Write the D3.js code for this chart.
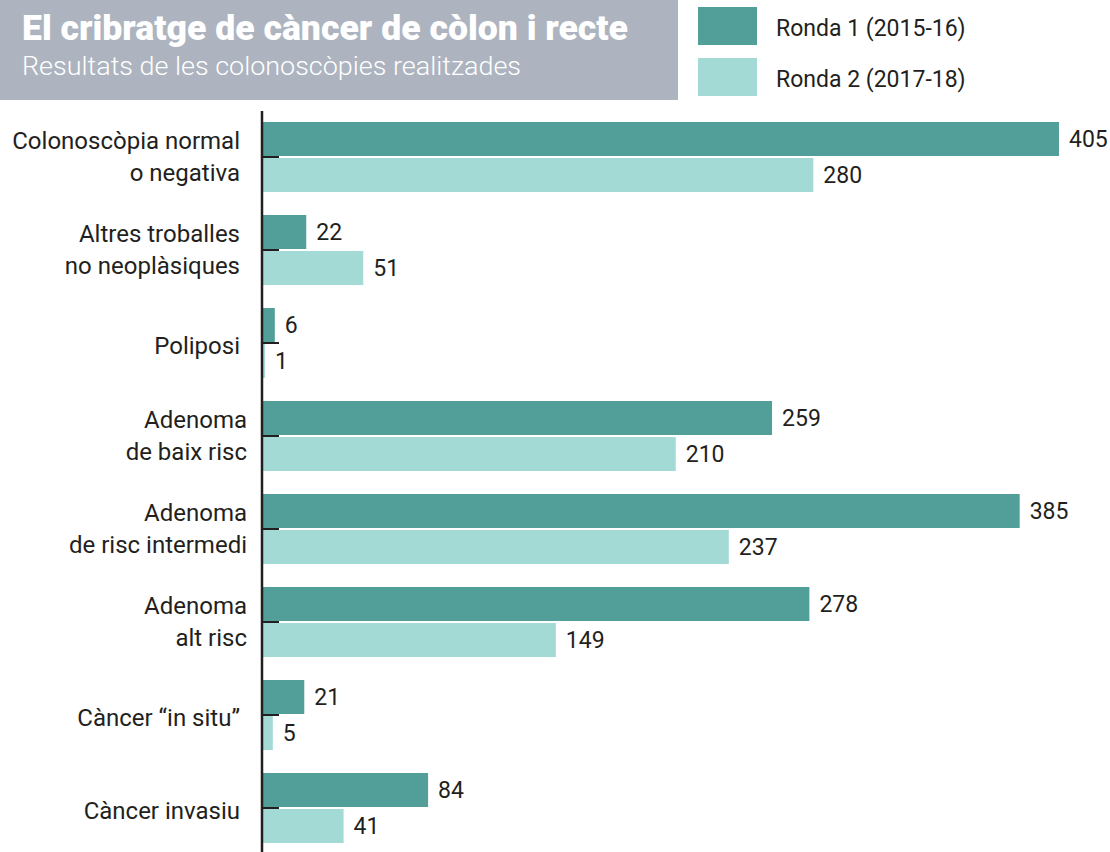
<!DOCTYPE html>
<html>
<head>
<meta charset="utf-8">
<script src="https://cdn.jsdelivr.net/npm/d3@7"></script>
<style>
  body { margin: 0; background: #fff; }
  svg { display: block; font-family: Roboto, "Noto Sans", sans-serif; }
</style>
</head>
<body>
<svg id="chart" width="1110" height="852"></svg>
<script>
const title = 'El cribratge de càncer de còlon i recte'
const subtitle = 'Resultats de les colonoscòpies realitzades'
const categories = [
  ['Colonoscòpia normal', 'o negativa'],
  ['Altres troballes', 'no neoplàsiques'],
  ['Poliposi'],
  ['Adenoma', 'de baix risc'],
  ['Adenoma', 'de risc intermedi'],
  ['Adenoma', 'alt risc'],
  ['Càncer “in situ”'],
  ['Càncer invasiu']
]
const seriesNames = ['Ronda 1 (2015-16)', 'Ronda 2 (2017-18)']
const ronda1 = [405, 22, 6, 259, 385, 278, 21, 84]
const ronda2 = [280, 51, 1, 210, 237, 149, 5, 41]
const colors = ['#529f9a', '#a4dad6']

let rows = categories.map((c, i) => ({ label: c, values: [ronda1[i], ronda2[i]] }))

let svg = d3.select('#chart')

// header box
svg.append('rect')
  .attr('x', 0).attr('y', 0)
  .attr('width', 678).attr('height', 100)
  .attr('fill', '#adb4bf')

svg.append('text')
  .attr('x', 22).attr('y', 40)
  .attr('fill', '#fff')
  .attr('font-size', 35)
  .attr('font-weight', 900)
  .attr('textLength', 606)
  .attr('lengthAdjust', 'spacingAndGlyphs')
  .text(title)

svg.append('text')
  .attr('x', 22).attr('y', 75)
  .attr('fill', '#fff')
  .attr('font-size', 26)
  .attr('font-weight', 300)
  .attr('textLength', 499)
  .attr('lengthAdjust', 'spacingAndGlyphs')
  .text(subtitle)

// legend
let legend = svg.append('g')
  .selectAll('g')
  .data(seriesNames)
  .enter().append('g')
    .attr('transform', (d, i) => `translate(698,${7 + i * 51})`)

legend.append('rect')
  .attr('width', 59).attr('height', 38)
  .attr('fill', (d, i) => colors[i])

legend.append('text')
  .attr('x', 78).attr('y', 29)
  .attr('font-size', 23)
  .attr('fill', '#231f20')
  .text(d => d)

// scales
let x = d3.scaleLinear().domain([0, 405]).range([263, 1059])
let y = d3.scaleBand()
  .domain(d3.range(categories.length))
  .range([122, 843])
  .paddingInner(23 / 93)
  .paddingOuter(0)
let ySub = d3.scaleBand().domain([0, 1]).range([0, y.bandwidth()]).paddingInner(2 / 36)

let groups = svg.append('g')
  .selectAll('g.group')
  .data(rows)
  .enter().append('g')
    .attr('class', 'group')
    .attr('transform', (d, i) => `translate(0,${y(i)})`)

groups.selectAll('rect')
  .data(d => d.values)
  .enter().append('rect')
    .attr('x', x(0))
    .attr('y', (d, i) => ySub(i))
    .attr('width', d => x(d) - x(0))
    .attr('height', ySub.bandwidth())
    .attr('fill', (d, i) => colors[i])

groups.selectAll('text.value')
  .data(d => d.values)
  .enter().append('text')
    .attr('class', 'value')
    .attr('x', d => x(d) + 10)
    .attr('y', (d, i) => ySub(i) + ySub.bandwidth() / 2 + 8)
    .attr('font-size', 23)
    .attr('fill', '#231f20')
    .text(d => d)

// category labels, hand-placed like the original
let mid = y.bandwidth() / 2
groups.append('text')
  .attr('class', 'label')
  .attr('text-anchor', 'end')
  .attr('font-size', 24)
  .attr('fill', '#231f20')
  .attr('x', d => d.label[0] === 'Adenoma' ? 247 : 240)
  .selectAll('tspan')
  .data(d => d.label.map(t => ({ t, n: d.label.length })))
  .enter().append('tspan')
    .attr('x', function() { return d3.select(this.parentNode).attr('x') })
    .attr('y', (d, i) => d.n === 1 ? mid + 11 : mid - 8 + i * 32)
    .text(d => d.t)

// axis line with ticks at each group centre
let axis = svg.append('g')
axis.append('line')
  .attr('x1', 262).attr('x2', 262)
  .attr('y1', 111).attr('y2', 852)
  .attr('stroke', '#231f20')
  .attr('stroke-width', 2.5)

axis.selectAll('line.tick')
  .data(d3.range(categories.length))
  .enter().append('line')
    .attr('class', 'tick')
    .attr('x1', 262).attr('x2', 279)
    .attr('y1', d => y(d) + mid)
    .attr('y2', d => y(d) + mid)
    .attr('stroke', '#231f20')
    .attr('stroke-width', 2)
</script>
</body>
</html>
